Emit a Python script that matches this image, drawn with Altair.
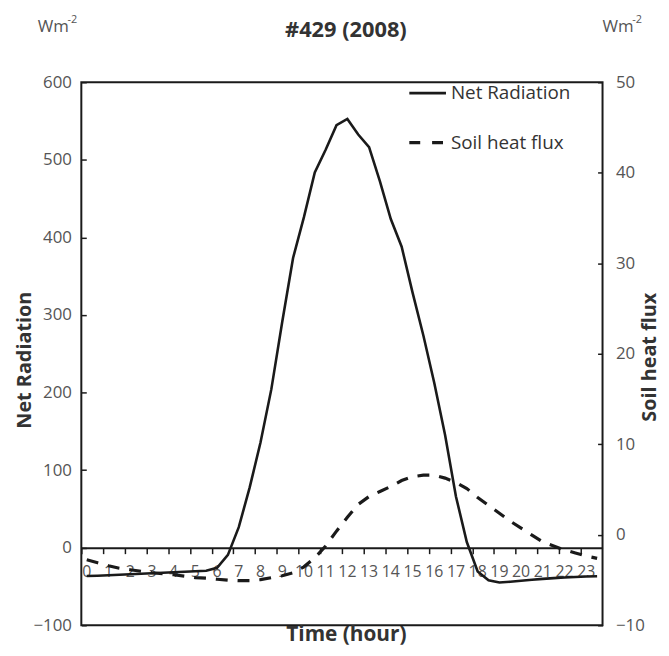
import altair as alt
import pandas as pd

# half-hourly time stamps (hours) and values
hours = [0.25, 0.75, 1.25, 1.75, 2.25, 2.75, 3.25, 3.75, 4.25, 4.75, 5.25, 5.75,
         6.25, 6.75, 7.25, 7.75, 8.25, 8.75, 9.25, 9.75, 10.25, 10.75, 11.25, 11.75,
         12.25, 12.75, 13.25, 13.75, 14.25, 14.75, 15.25, 15.75, 16.25, 16.75, 17.25, 17.75,
         18.25, 18.75, 19.25, 19.75, 20.25, 20.75, 21.25, 21.75, 22.25, 22.75, 23.25, 23.75]

net_radiation = [-36.5, -36.1, -35.5, -34.8, -34.2, -33.6, -32.9, -32.3, -31.7, -31.0, -30.4, -29.8,
                 -25.9, -9.3, 26.5, 77.4, 135.5, 204.4, 290.9, 373.5, 426.1, 483.9, 513.0, 544.7,
                 552.7, 532.6, 516.3, 472.3, 423.7, 388.0, 329.2, 273.6, 212.6, 145.3, 66.1, 7.3,
                 -30.6, -42.1, -44.9, -43.8, -42.5, -41.2, -40.2, -39.2, -38.4, -37.8, -37.2, -36.8]

soil_heat_flux = [-2.77, -3.10, -3.43, -3.70, -3.87, -4.03, -4.20, -4.31, -4.42, -4.58, -4.74, -4.80,
                  -4.91, -5.02, -5.07, -5.07, -4.96, -4.74, -4.53, -4.20, -3.54, -2.55, -1.24, 0.40,
                  1.93, 3.36, 4.23, 4.78, 5.33, 5.99, 6.42, 6.59, 6.59, 6.26, 5.77, 5.11,
                  4.12, 3.25, 2.37, 1.50, 0.73, -0.04, -0.80, -1.24, -1.68, -2.01, -2.34, -2.61]

hour_ticks = [0, 1, 2, 3, 4, 5, 6, 7, 8, 9, 10, 11, 12, 13, 14, 15, 16, 17, 18, 19, 20, 21, 22, 23]
left_ticks = [-100, 0, 100, 200, 300, 400, 500, 600]
right_ticks = [-10, 0, 10, 20, 30, 40, 50]

title_text = "#429 (2008)"
series_names = ["Net Radiation", "Soil heat flux"]
x_title = "Time (hour)"
unit_main = "Wm"
unit_exp = "-2"

W, H = 526, 548
LEFT_DOMAIN = [-100, 600]
RIGHT_DOMAIN = [-10, 50]
zero_offset = -H * (0 - LEFT_DOMAIN[0]) / (LEFT_DOMAIN[1] - LEFT_DOMAIN[0])

FONT = "Open Sans"
INK = "#1a1a1a"
LABEL = "#555555"
TITLE = "#333333"

df = pd.DataFrame({"hour": hours, "net": net_radiation, "soil": soil_heat_flux})

x_enc = alt.X(
    "hour:Q",
    scale=alt.Scale(domain=[0, 24], nice=False, zero=False),
    axis=alt.Axis(
        values=hour_ticks, format="d", title=x_title, offset=zero_offset,
        domain=True, domainColor=INK, domainWidth=2,
        ticks=True, tickSize=6, tickColor=INK, tickWidth=1.5,
        labelOffset=5, labelPadding=10, labelFontSize=16, labelOverlap=False, labelFlush=False,
        labelColor=LABEL, labelFont=FONT,
        titleX=267, titleY=88, titleAlign="center", titleBaseline="middle",
        titleFontSize=21, titleFontWeight="bold", titleColor=TITLE, titleFont=FONT,
        grid=False,
    ),
)

net_line = alt.Chart(df).mark_line(color=INK, strokeWidth=2.6).encode(
    x=x_enc,
    y=alt.Y(
        "net:Q",
        scale=alt.Scale(domain=LEFT_DOMAIN, nice=False, zero=False),
        axis=alt.Axis(
            orient="left", values=left_ticks, offset=-5, domain=False,
            tickSize=5, tickColor=INK, tickWidth=1.5,
            labelPadding=10, labelFontSize=17, labelColor=LABEL, labelFont=FONT,
            labelOverlap=False, labelFlush=False,
            title=series_names[0], titleAngle=270, titleX=-62, titleY=280,
            titleAlign="center", titleBaseline="middle",
            titleFontSize=20, titleFontWeight="bold", titleColor=TITLE, titleFont=FONT,
            grid=False,
        ),
    ),
)

soil_line = alt.Chart(df).mark_line(color=INK, strokeWidth=3.2, strokeDash=[12, 10]).encode(
    x=x_enc,
    y=alt.Y(
        "soil:Q",
        scale=alt.Scale(domain=RIGHT_DOMAIN, nice=False, zero=False),
        axis=alt.Axis(
            orient="right", values=right_ticks, offset=-5, domain=False,
            tickSize=5, tickColor=INK, tickWidth=1.5,
            labelPadding=13, labelFontSize=17, labelColor=LABEL, labelFont=FONT,
            labelOverlap=False, labelFlush=False,
            title=series_names[1], titleAngle=270, titleX=52, titleY=277,
            titleAlign="center", titleBaseline="middle",
            titleFontSize=20, titleFontWeight="bold", titleColor=TITLE, titleFont=FONT,
            grid=False,
        ),
    ),
)

one = alt.Data(values=[{"k": 1}])


def text_layer(txt, x, y, size, weight="normal", align="center", color=TITLE):
    return alt.Chart(one).mark_text(
        text=txt, fontSize=size, fontWeight=weight, align=align, baseline="middle",
        font=FONT, color=color,
    ).encode(x=alt.value(x), y=alt.value(y))


title_layer = text_layer(title_text, 267, -53, 22, weight="bold")
unit_left = text_layer(unit_main, -44, -56, 17, align="left", color=LABEL)
unit_left_exp = text_layer(unit_exp, -14, -63, 11, align="left", color=LABEL)
unit_right = text_layer(unit_main, 526, -56, 17, align="left", color=LABEL)
unit_right_exp = text_layer(unit_exp, 556, -63, 11, align="left", color=LABEL)

leg_solid = alt.Chart(one).mark_rule(color=INK, strokeWidth=2.6).encode(
    x=alt.value(331), x2=alt.value(368), y=alt.value(11))
leg_dash = alt.Chart(one).mark_rule(color=INK, strokeWidth=3.2, strokeDash=[11, 12]).encode(
    x=alt.value(331), x2=alt.value(366), y=alt.value(61))
leg_t1 = text_layer(series_names[0], 373, 11, 19, align="left")
leg_t2 = text_layer(series_names[1], 373, 61, 19, align="left")

chart = alt.layer(
    net_line, soil_line, title_layer, unit_left, unit_left_exp, unit_right, unit_right_exp,
    leg_solid, leg_dash, leg_t1, leg_t2,
).resolve_scale(y="independent").properties(
    width=W, height=H,
    autosize=alt.AutoSizeParams(type="none"),
    padding={"left": 74, "top": 72, "right": 59, "bottom": 21},
    background="white",
).configure_view(stroke=INK, strokeWidth=2).configure_axis(grid=False)

chart.save("out.html", embed_options={"renderer": "svg", "actions": False})
